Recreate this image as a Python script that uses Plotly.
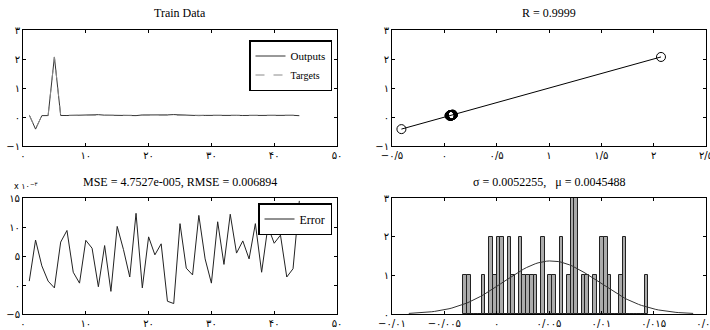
import numpy as np
import plotly.graph_objects as go

# ---------------- data ----------------
sample_idx = list(range(1, 45))
targets = [0.07, -0.41, 0.05, 0.05, 2.07, 0.06, 0.06, 0.06, 0.06, 0.06,
           0.07, 0.08, 0.07, 0.06, 0.06, 0.07, 0.06, 0.06, 0.07, 0.08,
           0.06, 0.06, 0.07, 0.08, 0.08, 0.07, 0.06, 0.06, 0.06, 0.06,
           0.06, 0.06, 0.06, 0.06, 0.06, 0.06, 0.06, 0.06, 0.06, 0.06,
           0.06, 0.06, 0.06, 0.06]
# error values in units of 1e-3
error_e3 = [0.67, 7.75, 3.3, 0.67, -0.5, 7.4, 9.4, 2.2, 0.32, 7.7,
            6.34, -0.3, 6.8, -1.1, 10.1, 6.1, 1.38, 12.36, -0.5, 8.3,
            5.2, 7.1, -2.8, -3.2, 10.58, 2.9, 1.74, 12.0, 4.5, 0.32,
            10.9, 3.55, 12.2, 5.5, 7.6, 4.5, 10.58, 2.2, 10.1, 7.2,
            8.6, 1.38, 2.8, 14.5]

titles = ["Train Data", "R = 0.9999",
          "MSE = 4.7527e-005, RMSE = 0.006894",
          "\u03c3 = 0.0052255,\u00a0\u00a0\u00a0\u03bc = 0.0045488"]

x50_vals = [0, 10, 20, 30, 40, 50]
x50_text = ["۰", "۱۰", "۲۰", "۳۰", "۴۰", "۵۰"]
y3_vals = [-1, 0, 1, 2, 3]
y3_text = ["−۱", "۰", "۱", "۲", "۳"]
xr_vals = [-0.5, 0, 0.5, 1, 1.5, 2, 2.5]
xr_text = ["−۰/۵", "۰", "۰/۵", "۱", "۱/۵", "۲", "۲/۵"]
ye_vals = [-5, 0, 5, 10, 15]
ye_text = ["−۵", "۰", "۵", "۱۰", "۱۵"]
xh_vals = [-0.01, -0.005, 0, 0.005, 0.01, 0.015, 0.02]
xh_text = ["−۰/۰۱", "−۰/۰۰۵", "۰", "۰/۰۰۵", "۰/۰۱", "۰/۰۱۵", "۰/۰۲"]
yh_vals = [0, 1, 2, 3]
yh_text = ["۰", "۱", "۲", "۳"]

# ---------------- derived ----------------
t = np.array(targets)
err = np.array(error_e3) * 1e-3
outputs = t - err

coef = np.polyfit(t, outputs, 1)
fit_x = np.array([t.min(), t.max()])
fit_y = np.polyval(coef, fit_x)

counts, edges = np.histogram(err, bins=50)
centers = (edges[:-1] + edges[1:]) / 2
binw = edges[1] - edges[0]
mu = err.mean()
sd = err.std(ddof=1)
xs = np.linspace(mu - 3 * sd, mu + 3 * sd, 100)
ys = len(err) * binw * np.exp(-0.5 * ((xs - mu) / sd) ** 2) / (sd * np.sqrt(2 * np.pi))

W, H = 710, 330
def px_x(a, b):
    return [a / W, b / W]
def px_y(top, bottom):
    return [1 - bottom / H, 1 - top / H]

SERIF = "Liberation Serif, Times New Roman, serif"

fig = go.Figure()

# top-left
fig.add_trace(go.Scatter(x=sample_idx, y=outputs, mode="lines", name="Outputs",
                         line=dict(color="#333333", width=1), xaxis="x", yaxis="y",
                         legend="legend"))
fig.add_trace(go.Scatter(x=sample_idx, y=targets, mode="lines",
                         name="<span style='font-size:10px'>Targets</span>",
                         line=dict(color="#8a8a8a", width=1, dash="dash"),
                         xaxis="x", yaxis="y", legend="legend"))
# top-right
fig.add_trace(go.Scatter(x=t, y=outputs, mode="markers", showlegend=False,
                         marker=dict(symbol="circle-open", size=9, color="black",
                                     line=dict(width=1, color="black")),
                         xaxis="x2", yaxis="y2"))
fig.add_trace(go.Scatter(x=fit_x, y=fit_y, mode="lines", showlegend=False,
                         line=dict(color="black", width=1), xaxis="x2", yaxis="y2"))
# bottom-left
fig.add_trace(go.Scatter(x=sample_idx, y=error_e3, mode="lines", name="Error",
                         line=dict(color="#222222", width=1), xaxis="x3", yaxis="y3",
                         legend="legend2"))
# bottom-right
fig.add_trace(go.Bar(x=centers, y=counts, width=binw, showlegend=False,
                     marker=dict(color="#ababab", line=dict(color="#222222", width=1)),
                     xaxis="x4", yaxis="y4"))
fig.add_trace(go.Scatter(x=xs, y=ys, mode="lines", showlegend=False,
                         line=dict(color="#333333", width=1), xaxis="x4", yaxis="y4"))

tickfont = dict(family="DejaVu Sans", size=10, color="black")
def ax(domain, rng, vals, text, anchor):
    return dict(domain=domain, range=rng, tickvals=vals, ticktext=text,
                ticks="inside", ticklen=3, tickcolor="black", tickwidth=1,
                showline=True, linecolor="black", linewidth=1, mirror="ticks",
                showgrid=False, zeroline=False, automargin=False,
                ticklabeloverflow="allow",
                tickfont=tickfont, anchor=anchor, fixedrange=True)

dx_l = px_x(23, 337)
dx_r = px_x(392, 706)
dy_t = px_y(30, 146)
dy_b = px_y(198, 314)

fig.update_layout(
    width=W, height=H, margin=dict(l=0, r=0, t=0, b=0),
    paper_bgcolor="white", plot_bgcolor="white", template="none",
    bargap=0,
    xaxis=ax(dx_l, [0, 50], x50_vals, x50_text, "y"),
    yaxis=ax(dy_t, [-1, 3], y3_vals, y3_text, "x"),
    xaxis2=ax(dx_r, [-0.5, 2.5], xr_vals, xr_text, "y2"),
    yaxis2=ax(dy_t, [-1, 3], y3_vals, y3_text, "x2"),
    xaxis3=ax(dx_l, [0, 50], x50_vals, x50_text, "y3"),
    yaxis3=ax(dy_b, [-5, 15], ye_vals, ye_text, "x3"),
    xaxis4=ax(dx_r, [-0.01, 0.02], xh_vals, xh_text, "y4"),
    yaxis4=ax(dy_b, [0, 3], yh_vals, yh_text, "x4"),
    legend=dict(x=332 / W, y=1 - 40 / H, xanchor="right", yanchor="top",
                bgcolor="white", bordercolor="black", borderwidth=1.5,
                font=dict(family=SERIF, size=11, color="black"),
                itemwidth=30, tracegroupgap=0),
    legend2=dict(x=332 / W, y=1 - 203 / H, xanchor="right", yanchor="top",
                 bgcolor="white", bordercolor="black", borderwidth=1.5,
                 font=dict(family=SERIF, size=12, color="black"),
                 itemwidth=30),
    showlegend=True,
)

title_font = dict(family=SERIF, size=12, color="black")
title_pos = [(180, 22), (549, 22), (180, 191), (549, 191)]
for txt, (cx, by) in zip(titles, title_pos):
    fig.add_annotation(text=txt, x=cx / W, y=1 - by / H, xref="paper", yref="paper",
                       xanchor="center", yanchor="bottom", showarrow=False,
                       font=title_font)
fig.add_annotation(text="x ۱۰<sup>−۳</sup>", x=12 / W, y=1 - 193 / H, xref="paper",
                   yref="paper", xanchor="left", yanchor="bottom", showarrow=False,
                   font=dict(family="DejaVu Sans", size=8, color="black"))

fig.write_html("out.html")
